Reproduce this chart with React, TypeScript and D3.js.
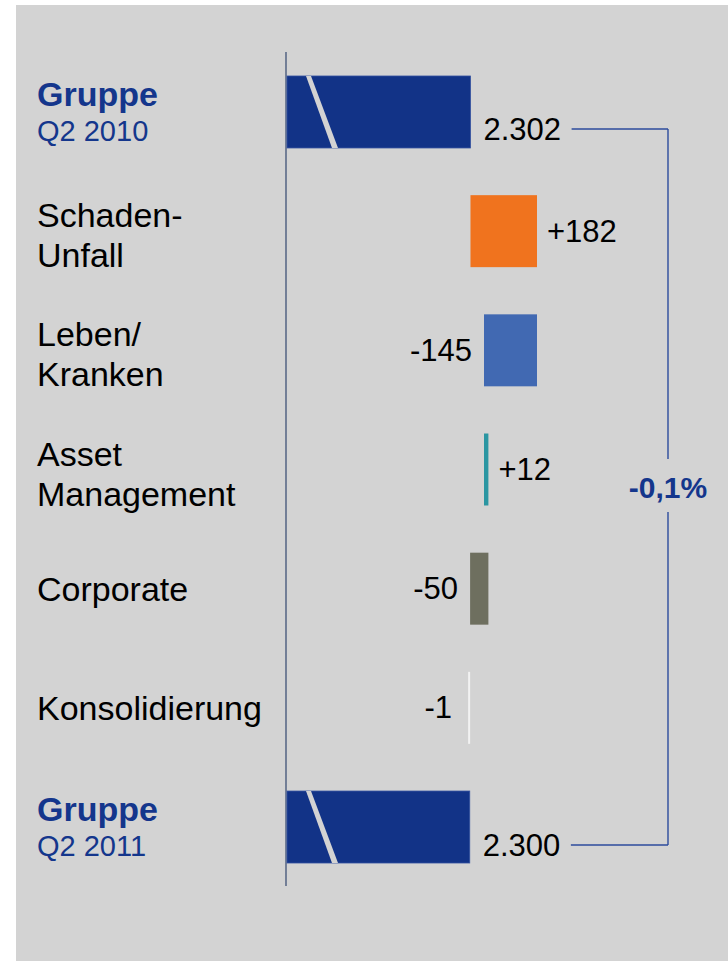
import React from "react";
import * as d3 from "d3";

const categories = ["Gruppe|Q2 2010", "Schaden-|Unfall", "Leben/|Kranken", "Asset|Management", "Corporate", "Konsolidierung", "Gruppe|Q2 2011"];
const values = [2302, 182, -145, 12, -50, -1, 2300];
const kinds = ["total", "delta", "delta", "delta", "delta", "delta", "total"];
const colors = ["#123387", "#f0731e", "#4169b2", "#2b96a2", "#6e6f5f", "#f2f2f2", "#123387"];
const valueLabels = ["2.302", "+182", "-145", "+12", "-50", "-1", "2.300"];

const W = 728, H = 961;

export default function App() {
  const x = d3.scaleLinear().domain([1800, 2484]).range([287, 537]);
  const y = d3.scaleBand<number>().domain(d3.range(categories.length)).range([52.4, 886.6]).paddingInner(0.396).paddingOuter(0.198);
  const bh = y.bandwidth();
  const valueFont = 31;

  let cum = 0;
  const bars = values.map((v, i) => {
    let x0: number, x1: number;
    if (kinds[i] === "total") {
      x0 = x.domain()[0];
      x1 = v;
      cum = v;
    } else {
      x0 = cum;
      x1 = cum + v;
      cum = cum + v;
    }
    const lo = Math.min(x0, x1), hi = Math.max(x0, x1);
    const px0 = x(lo), px1 = x(hi);
    const w = Math.max(px1 - px0, 2);
    return { i, v, lo, hi, px0: v < 0 && px1 - px0 < 2 ? px1 - 2 : px0, w, cy: (y(i) as number) + bh / 2 };
  });

  const fmtPct = (n: number) => (n >= 0 ? "+" : "-") + Math.abs(n).toFixed(1).replace(".", ",") + "%";
  const pct = ((values[6] - values[0]) / values[0]) * 100;
  const pctLabel = fmtPct(pct);

  const bracketX = 668;
  const topB = bars[0], botB = bars[6];
  const topY = topB.cy + 17;
  const botY = botB.cy + 18;
  const labelW = valueFont * 2.52;
  const midY = (topY + botY) / 2;

  return (
    <svg width={W} height={H} style={{ position: "absolute", left: 0, top: 0 }} fontFamily="Liberation Sans, Arial, sans-serif">
      <rect x={0} y={0} width={W} height={H} fill="#ffffff" />
      <rect x={16} y={5} width={W - 16} height={H - 5} fill="#d3d3d3" />
      {/* axis */}
      <line x1={286} x2={286} y1={52} y2={886} stroke="#5b6a88" strokeWidth={1.6} />
      {bars.map((b) => {
        const isTotal = kinds[b.i] === "total";
        const top = b.cy - bh / 2;
        return (
          <g key={b.i}>
            <rect x={b.px0} y={top} width={b.w} height={bh} fill={colors[b.i]} stroke={isTotal ? "#3452a0" : "none"} strokeWidth={isTotal ? 0.8 : 0} />
            {isTotal && (
              <polygon
                points={`${b.px0 + 19},${top} ${b.px0 + 24},${top} ${b.px0 + 51},${top + bh} ${b.px0 + 45},${top + bh}`}
                fill="#d3d3d3"
              />
            )}
          </g>
        );
      })}
      {/* value labels */}
      {bars.map((b) => {
        const isTotal = kinds[b.i] === "total";
        if (isTotal) {
          return (
            <text key={"v" + b.i} x={x(b.v) + 13} y={b.cy + 28.5} fontSize={valueFont} fill="#000">
              {valueLabels[b.i]}
            </text>
          );
        }
        if (b.v >= 0) {
          return (
            <text key={"v" + b.i} x={b.px0 + b.w + 10} y={b.cy + 10.5} fontSize={valueFont} fill="#000">
              {valueLabels[b.i]}
            </text>
          );
        }
        return (
          <text key={"v" + b.i} x={b.px0 - (b.w <= 2 ? 16 : 12)} y={b.cy + 10.5} fontSize={valueFont} fill="#000" textAnchor="end">
            {valueLabels[b.i]}
          </text>
        );
      })}
      {/* category labels */}
      {categories.map((c, i) => {
        const parts = c.split("|");
        const cy = bars[i].cy;
        if (kinds[i] === "total") {
          return (
            <g key={"c" + i}>
              <text x={37} y={cy - 6} fontSize={34} fontWeight="bold" fill="#14368c">{parts[0]}</text>
              <text x={37} y={cy + 29} fontSize={29} fill="#14368c">{parts[1]}</text>
            </g>
          );
        }
        if (parts.length === 2) {
          return (
            <g key={"c" + i}>
              <text x={37} y={cy - 4} fontSize={34} fill="#000">{parts[0]}</text>
              <text x={37} y={cy + 36} fontSize={34} fill="#000">{parts[1]}</text>
            </g>
          );
        }
        return (
          <text key={"c" + i} x={37} y={cy + 12} fontSize={34} fill="#000">{parts[0]}</text>
        );
      })}
      {/* bracket */}
      <g stroke="#2c4b9c" strokeWidth={1.4} fill="none">
        <line x1={x(values[0]) + 13 + labelW + 10} x2={bracketX} y1={topY} y2={topY} />
        <line x1={x(values[6]) + 13 + labelW + 10} x2={bracketX} y1={botY} y2={botY} />
        <line x1={bracketX} x2={bracketX} y1={topY} y2={midY - 28} />
        <line x1={bracketX} x2={bracketX} y1={midY + 25} y2={botY} />
      </g>
      <text x={bracketX} y={midY + 11} fontSize={30} fontWeight="bold" fill="#14368c" textAnchor="middle">{pctLabel}</text>
    </svg>
  );
}
